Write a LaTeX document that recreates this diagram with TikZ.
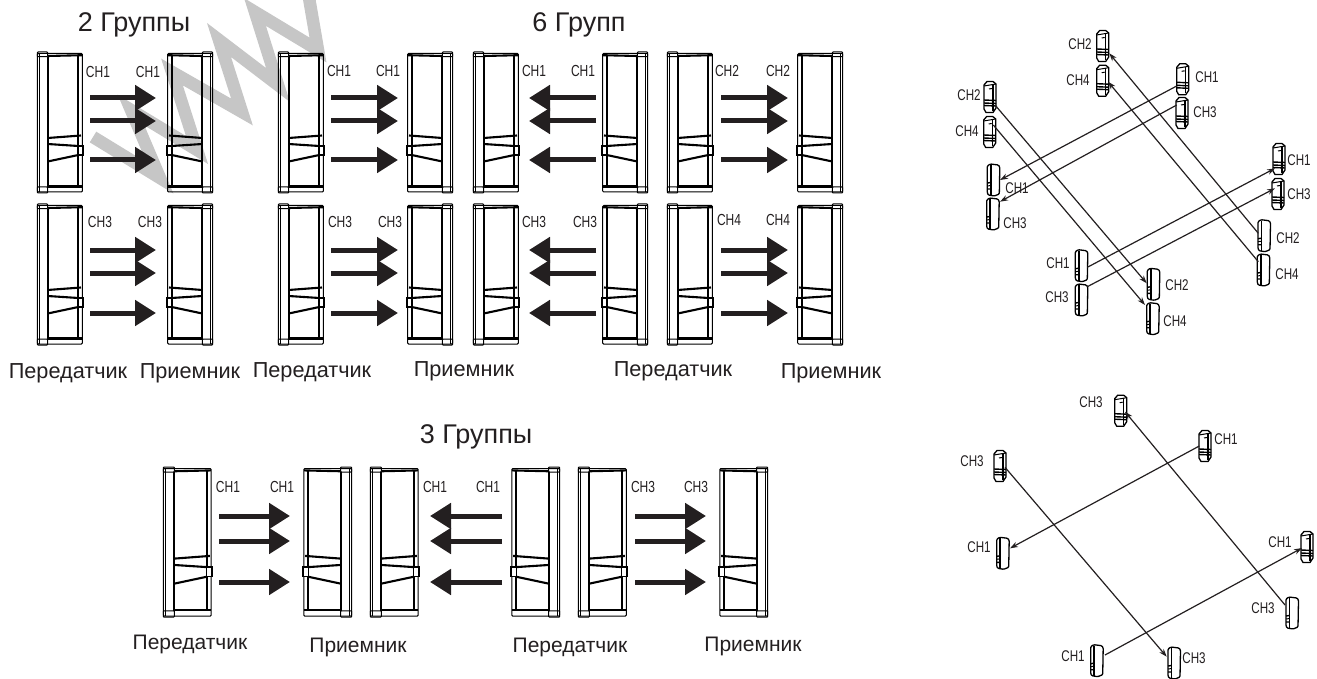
\documentclass[tikz,border=0pt]{standalone}
\usepackage{fontspec}
\setmainfont{Liberation Sans}
\newfontfamily\chfont[FakeStretch=0.75]{Liberation Sans}
\usetikzlibrary{arrows.meta}
\definecolor{ink}{HTML}{231F20}
\definecolor{wmark}{HTML}{C6C6C6}
\tikzset{
  title/.style={text=ink,font=\fontsize{27}{27}\selectfont,inner sep=0pt},
  role/.style={text=ink,font=\fontsize{21.7}{22}\selectfont,inner sep=0pt},
  rolelow/.style={text=ink,font=\fontsize{21}{22}\selectfont,inner sep=0pt},
  chbig/.style={text=ink,font=\chfont\fontsize{16}{16}\selectfont,inner sep=0pt},
  chsmall/.style={text=ink,font=\chfont\fontsize{15.5}{16}\selectfont,inner sep=0pt},
  thin line/.style={draw=black,line width=1pt},
  heavy line/.style={draw=black,line width=2.1pt},
  bigarrow/.style={draw=ink,line width=5pt,-{Triangle[length=21pt,width=25pt]}},
  link/.style={draw=ink,line width=1.2pt,-{Stealth[length=8pt,width=5.5pt]}},
  panel/.pic={
    \path[thin line,rounded corners=1pt] (0.3,1.5) rectangle (45.3,140);
    \path[thin line] (2.4,1.5) -- (2.4,140);
    \path[thin line,rounded corners=0.8pt] (0.3,0) rectangle (10.7,4.7);
    \path[thin line,rounded corners=0.8pt] (0.3,135) rectangle (10.7,141);
    \path[heavy line] (10.7,4.7) -- (10.7,135);
    \path[heavy line] (41.3,4) -- (41.3,134.5);
    \path[heavy line] (10.7,4) -- (45,3.2);
    \path[heavy line] (10.7,134.5) -- (45,134.5);
    \path[heavy line] (10.7,86) -- (44,83.5);
    \path[heavy line] (10.7,92) -- (41.3,94);
    \path[heavy line] (10.7,109.5) -- (41.3,103);
    \path[thin line,fill=white,line width=1.3pt] (41,94) rectangle (46,103);
  },
  backunit/.pic={
    \path[thin line,line width=1.3pt,fill=white] (-6,-12) -- (-3,-15.5) -- (3,-15.5) -- (6,-13) -- (6,11) -- (3,15.5) -- (-4,15.5) -- (-6,12) -- cycle;
    \path[thin line] (-6,-11) -- (3,-12.5) -- (6,-13);
    \path[heavy line,line width=1.5pt] (3,-12.5) -- (3,14);
    \path[heavy line,line width=1.4pt] (-6,3) -- (6,3.5) (-6,6) -- (6,6.5) (-6,8.5) -- (6,9);
    \path[thin line] (-1,-8) -- (2,-8.5);
  },
  frontunit/.pic={
    \path[thin line,line width=1.3pt,fill=white,rounded corners=1pt] (-6,-14) -- (-3,-16) -- (5,-15) -- (6.5,-13) -- (6,14) -- (1,16) -- (-5,15) -- (-6,13) -- cycle;
    \path[heavy line,line width=1.6pt] (-2.5,-15) -- (-2.5,15);
    \path[heavy line,line width=1.4pt] (-6,3) -- (-2.5,2.5) (-6,9) -- (-2.5,9);
    \path[thin line] (-6,6) -- (-2.5,5.5);
  }
}
\newcommand{\barr}[4]{%
  \coordinate (#1-s) at (#2,#3);
  \coordinate (#1-e) at (#4,#3);
  \draw[bigarrow] (#1-s) -- (#1-e);}
\newcommand{\triple}[6]{% name, start, end, y1, y2, y3
  \barr{#1a}{#2}{#4}{#3}\barr{#1b}{#2}{#5}{#3}\barr{#1c}{#2}{#6}{#3}}
\begin{document}
\begin{tikzpicture}[x=1pt,y=-1pt]
\useasboundingbox (0,0) rectangle (1317,679);
\begin{scope}
\clip (0,0) rectangle (1317,679);
% watermark
\draw[wmark,line width=12.5pt,miter limit=6] (93,137) -- (160,178) -- (131,110) -- (197,150) -- (172,72) -- (242,112) -- (219,40) -- (278,85) -- (255,12) -- (318,50) -- (308,-8);
\end{scope}
% titles
\node[title] (t2) at (134,25) {2 Группы};
\node[title] (t6) at (579,25) {6 Групп};
\node[title] (t3) at (476,437) {3 Группы};
% top panels
\foreach \y in {52,204}{
  \foreach \x in {37,278,473,667}{ \pic at (\x,\y) {panel}; }
  \foreach \x in {213,453,648,843}{ \pic[xscale=-1] at (\x,\y) {panel}; }
}
% bottom panels
\foreach \x in {163,370,578}{ \pic[scale=1.065] at (\x,467) {panel}; }
\foreach \x in {352,560,768}{ \pic[scale=1.065,xscale=-1] at (\x,467) {panel}; }
% big arrows
\triple{ra}{90}{156}{98}{121}{160}
\triple{rb}{331}{398}{98}{121}{160}
\triple{rc}{596}{529}{98}{121}{160}
\triple{rd}{721}{788}{98}{121}{160}
\triple{sa}{90}{156}{250}{273}{313}
\triple{sb}{331}{398}{250}{273}{313}
\triple{sc}{596}{529}{250}{273}{313}
\triple{sd}{721}{788}{250}{273}{313}
\triple{ta}{219}{290}{516}{541}{582}
\triple{tb}{502}{430}{516}{541}{582}
\triple{tc}{635}{706}{516}{541}{582}
% CH labels on panels
\node[chbig] (l1) at (98,72) {CH1};
\node[chbig] (l2) at (148,72) {CH1};
\node[chbig] (l3) at (339,71) {CH1};
\node[chbig] (l4) at (388,71) {CH1};
\node[chbig] (l5) at (534,71) {CH1};
\node[chbig] (l6) at (583,71) {CH1};
\node[chbig] (l7) at (727,71) {CH2};
\node[chbig] (l8) at (778,71) {CH2};
\node[chbig] (l9) at (100,222) {CH3};
\node[chbig] (l10) at (150,222) {CH3};
\node[chbig] (l11) at (340,222) {CH3};
\node[chbig] (l12) at (390,222) {CH3};
\node[chbig] (l13) at (534,222) {CH3};
\node[chbig] (l14) at (585,222) {CH3};
\node[chbig] (l15) at (729,220) {CH4};
\node[chbig] (l16) at (778,220) {CH4};
\node[chbig] (l17) at (228,487) {CH1};
\node[chbig] (l18) at (282,487) {CH1};
\node[chbig] (l19) at (435,487) {CH1};
\node[chbig] (l20) at (488,487) {CH1};
\node[chbig] (l21) at (643,487) {CH3};
\node[chbig] (l22) at (696,487) {CH3};
% role labels
\node[role] (r1) at (68,373) {Передатчик};
\node[role] (r2) at (190,373) {Приемник};
\node[role] (r3) at (312,372) {Передатчик};
\node[role] (r4) at (464,371) {Приемник};
\node[role] (r5) at (673,371) {Передатчик};
\node[role] (r6) at (831,373) {Приемник};
\node[rolelow] (r7) at (190,644) {Передатчик};
\node[rolelow] (r8) at (358,647) {Приемник};
\node[rolelow] (r9) at (570,647) {Передатчик};
\node[rolelow] (r10) at (753,646) {Приемник};
% upper isometric units
\foreach \x/\y in {1102.7/46,1102.7/80.7,1182.7/79.3,1182/113,990/97,989.7/132,1279/159,1278/194}{ \pic at (\x,\y) {backunit}; }
\foreach \x/\y in {993.3/180,992.7/214,1081.3/265.7,1081.3/300,1153.3/284.3,1152.7/318.7,1264/235.7,1263.3/270}{ \pic at (\x,\y) {frontunit}; }
% upper links
\coordinate (a1s) at (1258.3,233.3); \coordinate (a1e) at (1109.3,53.3);
\coordinate (a2s) at (1258.3,261.7); \coordinate (a2e) at (1108,81.7);
\coordinate (a3s) at (1176.7,86);    \coordinate (a3e) at (1000,180);
\coordinate (a4s) at (1176.7,105);   \coordinate (a4e) at (1000,201.7);
\coordinate (a5s) at (995,105);      \coordinate (a5e) at (1146.7,283.3);
\coordinate (a6s) at (993.3,125);    \coordinate (a6e) at (1145,305);
\coordinate (a7s) at (1087.3,267.3); \coordinate (a7e) at (1275,168.3);
\coordinate (a8s) at (1087.3,286.7); \coordinate (a8e) at (1275,188.3);
\foreach \i in {1,...,8}{ \draw[link] (a\i s) -- (a\i e); }
% upper labels
\node[chsmall] (u1) at (1080,44) {CH2};
\node[chsmall] (u2) at (1078,80) {CH4};
\node[chsmall] (u3) at (1207,77) {CH1};
\node[chsmall] (u4) at (1205,112) {CH3};
\node[chsmall] (u5) at (969,95) {CH2};
\node[chsmall] (u6) at (967,131) {CH4};
\node[chsmall] (u7) at (1017,188) {CH1};
\node[chsmall] (u8) at (1015,223) {CH3};
\node[chsmall] (u9) at (1058,263) {CH1};
\node[chsmall] (u10) at (1057,297) {CH3};
\node[chsmall] (u11) at (1177,285) {CH2};
\node[chsmall] (u12) at (1175,321) {CH4};
\node[chsmall] (u13) at (1288,238) {CH2};
\node[chsmall] (u14) at (1287,274) {CH4};
\node[chsmall] (u15) at (1299,160) {CH1};
\node[chsmall] (u16) at (1299,194) {CH3};
% lower isometric units
\foreach \x/\y in {1120.7/410.7,1205/446,1000/466,1307/547}{ \pic at (\x,\y) {backunit}; }
\foreach \x/\y in {1002.7/553.3,1292/613,1096.7/660.7}{ \pic at (\x,\y) {frontunit}; }
\begin{scope}
\clip (1150,640) rectangle (1200,679);
\pic at (1174,663) {frontunit};
\end{scope}
% lower links
\coordinate (b1s) at (1285,605);    \coordinate (b1e) at (1125,411.7);
\coordinate (b2s) at (1199.3,446);  \coordinate (b2e) at (1010,548.3);
\coordinate (b3s) at (1005,467.3);  \coordinate (b3e) at (1166.7,656.7);
\coordinate (b4s) at (1105,655);    \coordinate (b4e) at (1302,548);
\foreach \i in {1,...,4}{ \draw[link] (b\i s) -- (b\i e); }
% lower labels
\node[chsmall] (v1) at (1091,402) {CH3};
\node[chsmall] (v2) at (1226,439) {CH1};
\node[chsmall] (v3) at (972,461) {CH3};
\node[chsmall] (v4) at (979,547) {CH1};
\node[chsmall] (v5) at (1280,542) {CH1};
\node[chsmall] (v6) at (1263,608) {CH3};
\node[chsmall] (v7) at (1073,656) {CH1};
\node[chsmall] (v8) at (1194,658) {CH3};
\end{tikzpicture}
\end{document}
